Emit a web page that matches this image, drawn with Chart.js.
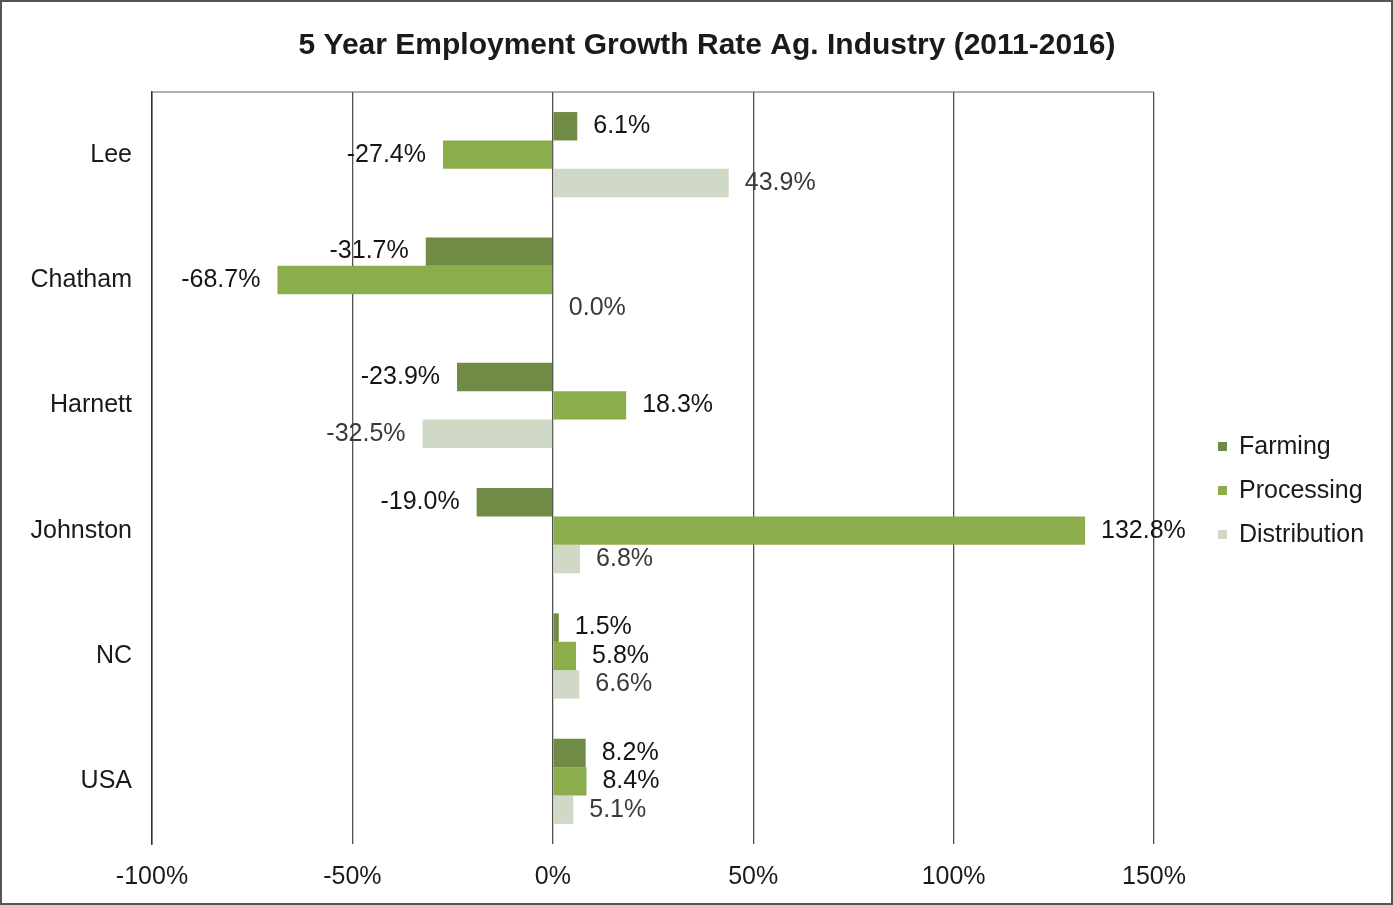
<!DOCTYPE html>
<html>
<head>
<meta charset="utf-8">
<script src="https://cdn.jsdelivr.net/npm/chart.js@4"></script>
<style>
html,body{margin:0;padding:0;background:#fff;}
#wrap{position:relative;width:1393px;height:905px;box-sizing:border-box;border:2px solid #555;}
canvas{display:block;}
</style>
</head>
<body>
<div id="wrap"><canvas id="c" width="1389" height="901"></canvas></div>
<script>
const categories = ["Lee", "Chatham", "Harnett", "Johnston", "NC", "USA"];
const farming = [6.1, -31.7, -23.9, -19.0, 1.5, 8.2];
const processing = [-27.4, -68.7, 18.3, 132.8, 5.8, 8.4];
const distribution = [43.9, 0.0, -32.5, 6.8, 6.6, 5.1];
const seriesNames = ["Farming", "Processing", "Distribution"];
const seriesColors = ['#6f8b45', '#8cad4c', '#d0d8c6'];
const xTicks = [-100, -50, 0, 50, 100, 150];
const titleText = '5 Year Employment Growth Rate Ag. Industry (2011-2016)';

const FONT = "'Liberation Sans', Arial, sans-serif";

const labelPlugin = {
  id: 'barLabels',
  afterDatasetsDraw(chart) {
    const ctx = chart.ctx;
    ctx.save();
    ctx.font = "25px " + FONT;
    ctx.textBaseline = 'middle';
    chart.data.datasets.forEach((ds, di) => {
      const meta = chart.getDatasetMeta(di);
      meta.data.forEach((bar, i) => {
        const v = ds.data[i];
        const txt = v.toFixed(1) + '%';
        ctx.fillStyle = di === 2 ? '#3a3a3a' : '#151515';
        if (v < 0) {
          ctx.textAlign = 'right';
          ctx.fillText(txt, bar.x - 17, bar.y);
        } else {
          ctx.textAlign = 'left';
          ctx.fillText(txt, bar.x + 16, bar.y);
        }
      });
    });
    ctx.restore();
  }
};

const legendPlugin = {
  id: 'sideLegend',
  afterDraw(chart) {
    const ctx = chart.ctx;
    ctx.save();
    ctx.font = "25px " + FONT;
    ctx.textBaseline = 'middle';
    ctx.textAlign = 'left';
    chart.data.datasets.forEach((ds, i) => {
      const y = 445 + i * 44;
      ctx.fillStyle = ds.backgroundColor;
      ctx.fillRect(1216, y - 5, 9, 9);
      ctx.fillStyle = '#1a1a1a';
      ctx.fillText(ds.label, 1237, y);
    });
    ctx.restore();
  }
};

const titlePlugin = {
  id: 'pageTitle',
  afterDraw(chart) {
    const ctx = chart.ctx;
    ctx.save();
    ctx.font = "bold 30px " + FONT;
    ctx.textBaseline = 'middle';
    ctx.textAlign = 'center';
    ctx.fillStyle = '#1a1a1a';
    ctx.fillText(titleText, 705, 44);
    ctx.restore();
  }
};

new Chart(document.getElementById('c'), {
  type: 'bar',
  data: {
    labels: categories,
    datasets: seriesNames.map((n, i) => ({
      label: n,
      data: [farming, processing, distribution][i],
      backgroundColor: seriesColors[i]
    }))
  },
  options: {
    indexAxis: 'y',
    responsive: false,
    animation: false,
    layout: { padding: { left: 10, right: 237, top: 90, bottom: 3 } },
    datasets: { bar: { categoryPercentage: 0.68, barPercentage: 1.0 } },
    plugins: {
      title: { display: false },
      legend: { display: false },
      tooltip: { enabled: false }
    },
    scales: {
      x: {
        min: -100, max: 150,
        afterBuildTicks(scale) { scale.ticks = xTicks.map(v => ({ value: v })); },
        ticks: {
          callback: v => v + '%',
          color: '#1a1a1a',
          font: { family: FONT, size: 25 },
          padding: 18
        },
        grid: { color: '#505050', lineWidth: 1.3, drawTicks: false },
        border: { display: false },
        afterFit(scale) { scale.height = 56; }
      },
      y: {
        ticks: {
          color: '#1a1a1a',
          font: { family: FONT, size: 25 },
          padding: 20
        },
        grid: { display: false, drawTicks: false },
        border: { display: true, color: '#333', width: 1.5 },
        afterFit(scale) { scale.width = 140; }
      }
    }
  },
  plugins: [labelPlugin, legendPlugin, titlePlugin, {
    id: 'topLine',
    afterDraw(chart) {
      const a = chart.chartArea, ctx = chart.ctx;
      ctx.save();
      ctx.strokeStyle = '#666'; ctx.lineWidth = 1.2;
      ctx.beginPath(); ctx.moveTo(a.left, a.top); ctx.lineTo(a.right, a.top); ctx.stroke();
      ctx.restore();
    }
  }]
});
</script>
</body>
</html>
